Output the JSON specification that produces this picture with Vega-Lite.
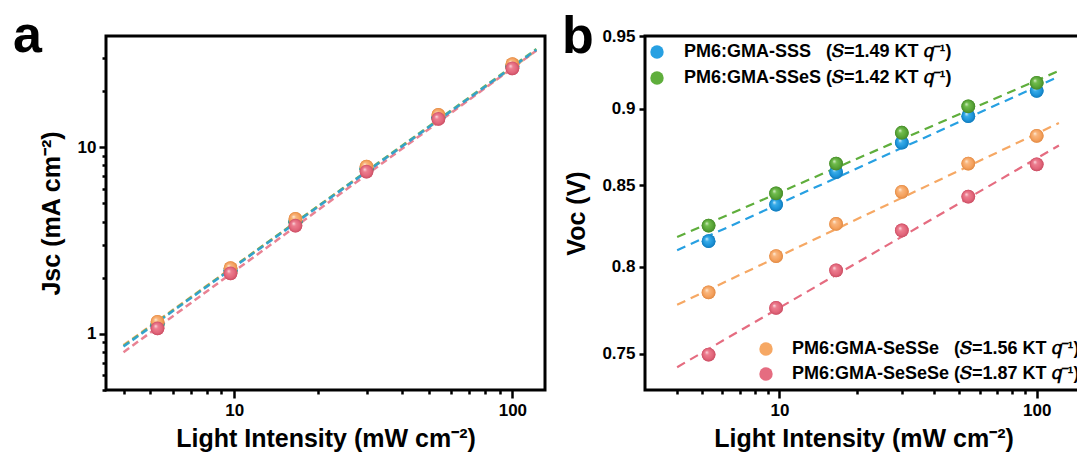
{
  "$schema": "https://vega.github.io/schema/vega-lite/v6.json",
  "padding": {"left": 11, "top": 8, "right": 0, "bottom": 0},
  "background": "white",
  "spacing": 13,
  "config": {
    "view": {"stroke": "black", "strokeWidth": 3},
    "font": "Liberation Sans",
    "axis": {"grid": false, "domain": false, "tickColor": "black", "tickWidth": 2.5, "labelFont": "Liberation Sans", "labelFontSize": 17, "labelFontWeight": "bold", "labelColor": "black", "titleFont": "Liberation Sans", "titleFontSize": 25, "titleFontWeight": "bold", "titleColor": "black", "labelFlush": false, "labelOverlap": false},
    "legend": {"orient": "none", "labelFont": "Liberation Sans", "labelFontSize": 18, "labelFontWeight": "bold", "labelColor": "black", "symbolType": "circle", "symbolSize": 180, "symbolStrokeWidth": 0, "symbolOpacity": 1, "labelLimit": 600, "padding": 0, "titlePadding": 0},
    "title": {"font": "Liberation Sans", "fontSize": 52, "fontWeight": "bold", "color": "black", "anchor": "start", "frame": "group", "offset": -8, "baseline": "alphabetic", "dy": 19}
  },
  "datasets": {
    "ptsA": [
      {"s": "SSeS", "p": 5.3, "j": 1.12}, {"s": "SSeS", "p": 9.7, "j": 2.17}, {"s": "SSeS", "p": 16.6, "j": 3.96}, {"s": "SSeS", "p": 29.9, "j": 7.62}, {"s": "SSeS", "p": 54.2, "j": 14.4}, {"s": "SSeS", "p": 100, "j": 27.0},
      {"s": "SSS", "p": 5.3, "j": 1.13}, {"s": "SSS", "p": 9.7, "j": 2.19}, {"s": "SSS", "p": 16.6, "j": 4.0}, {"s": "SSS", "p": 29.9, "j": 7.68}, {"s": "SSS", "p": 54.2, "j": 14.5}, {"s": "SSS", "p": 100, "j": 27.3},
      {"s": "SeSSe", "p": 5.3, "j": 1.16}, {"s": "SeSSe", "p": 9.7, "j": 2.25}, {"s": "SeSSe", "p": 16.6, "j": 4.13}, {"s": "SeSSe", "p": 29.9, "j": 7.88}, {"s": "SeSSe", "p": 54.2, "j": 14.9}, {"s": "SeSSe", "p": 100, "j": 27.9},
      {"s": "SeSeSe", "p": 5.3, "j": 1.07}, {"s": "SeSeSe", "p": 9.7, "j": 2.11}, {"s": "SeSeSe", "p": 16.6, "j": 3.8}, {"s": "SeSeSe", "p": 29.9, "j": 7.41}, {"s": "SeSeSe", "p": 54.2, "j": 14.2}, {"s": "SeSeSe", "p": 100, "j": 26.5}
    ],
    "fitA": [
      {"s": "SeSSe", "p": 4, "j": 0.87}, {"s": "SeSSe", "p": 122, "j": 33.0},
      {"s": "SeSeSe", "p": 4, "j": 0.797}, {"s": "SeSeSe", "p": 122, "j": 33.0},
      {"s": "SSeS", "p": 4, "j": 0.86}, {"s": "SSeS", "p": 122, "j": 33.6},
      {"s": "SSS", "p": 4, "j": 0.855}, {"s": "SSS", "p": 122, "j": 33.3}
    ],
    "ptsB": [
      {"s": "SSS", "p": 5.3, "v": 0.8155}, {"s": "SSS", "p": 9.7, "v": 0.838}, {"s": "SSS", "p": 16.6, "v": 0.8585}, {"s": "SSS", "p": 29.9, "v": 0.8775}, {"s": "SSS", "p": 54.2, "v": 0.895}, {"s": "SSS", "p": 100, "v": 0.912},
      {"s": "SSeS", "p": 5.3, "v": 0.825}, {"s": "SSeS", "p": 9.7, "v": 0.845}, {"s": "SSeS", "p": 16.6, "v": 0.864}, {"s": "SSeS", "p": 29.9, "v": 0.884}, {"s": "SSeS", "p": 54.2, "v": 0.9015}, {"s": "SSeS", "p": 100, "v": 0.9175},
      {"s": "SeSSe", "p": 5.3, "v": 0.785}, {"s": "SeSSe", "p": 9.7, "v": 0.8065}, {"s": "SeSSe", "p": 16.6, "v": 0.826}, {"s": "SeSSe", "p": 29.9, "v": 0.846}, {"s": "SeSSe", "p": 54.2, "v": 0.864}, {"s": "SeSSe", "p": 100, "v": 0.882},
      {"s": "SeSeSe", "p": 5.3, "v": 0.7495}, {"s": "SeSeSe", "p": 9.7, "v": 0.776}, {"s": "SeSeSe", "p": 16.6, "v": 0.798}, {"s": "SeSeSe", "p": 29.9, "v": 0.822}, {"s": "SeSeSe", "p": 54.2, "v": 0.843}, {"s": "SeSeSe", "p": 100, "v": 0.8635}
    ],
    "fitB": [
      {"s": "SSS", "p": 4, "v": 0.810}, {"s": "SSS", "p": 122, "v": 0.9218},
      {"s": "SSeS", "p": 4, "v": 0.818}, {"s": "SSeS", "p": 122, "v": 0.9257},
      {"s": "SeSSe", "p": 4, "v": 0.7778}, {"s": "SeSSe", "p": 122, "v": 0.8904},
      {"s": "SeSeSe", "p": 4, "v": 0.7425}, {"s": "SeSeSe", "p": 122, "v": 0.8757}
    ]
  },
  "hconcat": [
    {
      "width": 439,
      "height": 354,
      "title": {"text": "a", "dx": -93},
      "layer": [
        {
          "data": {"name": "fitA"},
          "mark": {"type": "line", "strokeDash": [7, 4], "strokeWidth": 2.5, "opacity": 0.85},
          "encoding": {
            "x": {"field": "p", "type": "quantitative", "scale": {"type": "log", "domain": [3.46, 131], "nice": false},
              "axis": {"title": "Light Intensity (mW cm⁻²)", "values": [4, 5, 6, 7, 8, 9, 10, 20, 30, 40, 50, 60, 70, 80, 90, 100],
                "labelExpr": "datum.value == 10 ? '10' : datum.value == 100 ? '100' : ''",
                "tickSize": {"condition": {"test": "datum.value == 10 || datum.value == 100", "value": 8}, "value": 4},
                "labelPadding": 4, "titlePadding": 8}},
            "y": {"field": "j", "type": "quantitative", "scale": {"type": "log", "domain": [0.5, 39.5], "nice": false},
              "axis": {"title": "Jsc (mA cm⁻²)", "values": [0.5, 0.6, 0.7, 0.8, 0.9, 1, 2, 3, 4, 5, 6, 7, 8, 9, 10, 20, 30],
                "labelExpr": "datum.value == 1 ? '1' : datum.value == 10 ? '10' : ''",
                "tickSize": {"condition": {"test": "datum.value == 1 || datum.value == 10", "value": 7}, "value": 4},
                "labelPadding": 3, "titlePadding": 13}},
            "stroke": {"field": "s", "type": "nominal", "scale": {"domain": ["SSS", "SSeS", "SeSSe", "SeSeSe"], "range": ["#27a0e2", "#5fae3c", "#f6a864", "#e56c80"]}, "legend": null}
          }
        },
        {
          "data": {"name": "ptsA"},
          "mark": {"type": "point", "filled": true, "size": 190, "opacity": 1, "strokeWidth": 0},
          "encoding": {
            "x": {"field": "p", "type": "quantitative", "scale": {"type": "log", "domain": [3.46, 131], "nice": false}},
            "y": {"field": "j", "type": "quantitative", "scale": {"type": "log", "domain": [0.5, 39.5], "nice": false}},
            "fill": {"field": "s", "type": "nominal", "scale": {"domain": ["SSS", "SSeS", "SeSSe", "SeSeSe"], "range": ["#27a0e2", "#5fae3c", "#f6a864", "#e56c80"]},
              "legend": {"title": null, "legendX": 9.5, "legendY": 9, "rowPadding": 5.3, "labelOffset": 17,
                "labelExpr": "{'SSS': 'PM6:GMA-SSS\u00a0\u00a0\u00a0\u00a0\u00a0\u00a0\u00a0\u00a0(a=1.09)', 'SSeS': 'PM6:GMA-SSeS\u00a0\u00a0\u00a0\u00a0\u00a0\u00a0(a=1.05)', 'SeSSe': 'PM6:GMA-SeSSe\u00a0\u00a0\u00a0\u00a0(a=1.05)', 'SeSeSe': 'PM6:GMA-SeSeSe\u00a0\u00a0(a=1.11)'}[datum.label]"}}
          }
        },
        {
          "data": {"name": "ptsA"},
          "transform": [{"filter": {"field": "s", "equal": "SSeS"}}],
          "mark": {"type": "point", "filled": true, "size": 190, "opacity": 1, "strokeWidth": 0,
            "fill": {"gradient": "radial", "x1": 0.35, "y1": 0.32, "r1": 0, "x2": 0.5, "y2": 0.5, "r2": 0.5,
              "stops": [{"offset": 0, "color": "#e4f5da"}, {"offset": 0.3, "color": "#72bd4e"}, {"offset": 0.75, "color": "#57a336"}, {"offset": 1, "color": "#46892a"}]}},
          "encoding": {
            "x": {"field": "p", "type": "quantitative", "scale": {"type": "log", "domain": [3.46, 131], "nice": false}},
            "y": {"field": "j", "type": "quantitative", "scale": {"type": "log", "domain": [0.5, 39.5], "nice": false}}
          }
        },
        {
          "data": {"name": "ptsA"},
          "transform": [{"filter": {"field": "s", "equal": "SSS"}}],
          "mark": {"type": "point", "filled": true, "size": 190, "opacity": 1, "strokeWidth": 0,
            "fill": {"gradient": "radial", "x1": 0.35, "y1": 0.32, "r1": 0, "x2": 0.5, "y2": 0.5, "r2": 0.5,
              "stops": [{"offset": 0, "color": "#e0f4ff"}, {"offset": 0.3, "color": "#3aade9"}, {"offset": 0.75, "color": "#1b93d8"}, {"offset": 1, "color": "#1479b8"}]}},
          "encoding": {
            "x": {"field": "p", "type": "quantitative", "scale": {"type": "log", "domain": [3.46, 131], "nice": false}},
            "y": {"field": "j", "type": "quantitative", "scale": {"type": "log", "domain": [0.5, 39.5], "nice": false}}
          }
        },
        {
          "data": {"name": "ptsA"},
          "transform": [{"filter": {"field": "s", "equal": "SeSSe"}}],
          "mark": {"type": "point", "filled": true, "size": 190, "opacity": 1, "strokeWidth": 0,
            "fill": {"gradient": "radial", "x1": 0.35, "y1": 0.32, "r1": 0, "x2": 0.5, "y2": 0.5, "r2": 0.5,
              "stops": [{"offset": 0, "color": "#fff1e0"}, {"offset": 0.3, "color": "#f9b67e"}, {"offset": 0.75, "color": "#f4a05c"}, {"offset": 1, "color": "#e08a45"}]}},
          "encoding": {
            "x": {"field": "p", "type": "quantitative", "scale": {"type": "log", "domain": [3.46, 131], "nice": false}},
            "y": {"field": "j", "type": "quantitative", "scale": {"type": "log", "domain": [0.5, 39.5], "nice": false}}
          }
        },
        {
          "data": {"name": "ptsA"},
          "transform": [{"filter": {"field": "s", "equal": "SeSeSe"}}],
          "mark": {"type": "point", "filled": true, "size": 190, "opacity": 1, "strokeWidth": 0,
            "fill": {"gradient": "radial", "x1": 0.35, "y1": 0.32, "r1": 0, "x2": 0.5, "y2": 0.5, "r2": 0.5,
              "stops": [{"offset": 0, "color": "#ffe8ec"}, {"offset": 0.3, "color": "#ec7f90"}, {"offset": 0.75, "color": "#e2657a"}, {"offset": 1, "color": "#c94f64"}]}},
          "encoding": {
            "x": {"field": "p", "type": "quantitative", "scale": {"type": "log", "domain": [3.46, 131], "nice": false}},
            "y": {"field": "j", "type": "quantitative", "scale": {"type": "log", "domain": [0.5, 39.5], "nice": false}}
          }
        }
      ]
    },
    {
      "width": 437,
      "height": 354,
      "title": {"text": "b", "dx": -83, "offset": -18},
      "resolve": {"scale": {"fill": "independent"}},
      "layer": [
        {
          "data": {"name": "fitB"},
          "mark": {"type": "line", "strokeDash": [9, 6], "strokeWidth": 2.2},
          "encoding": {
            "x": {"field": "p", "type": "quantitative", "scale": {"type": "log", "domain": [3.0, 150], "nice": false},
              "axis": {"title": "Light Intensity (mW cm⁻²)", "values": [4, 5, 6, 7, 8, 9, 10, 20, 30, 40, 50, 60, 70, 80, 90, 100],
                "labelExpr": "datum.value == 10 ? '10' : datum.value == 100 ? '100' : ''",
                "tickSize": {"condition": {"test": "datum.value == 10 || datum.value == 100", "value": 8}, "value": 4},
                "labelPadding": 4, "titlePadding": 8}},
            "y": {"field": "v", "type": "quantitative", "scale": {"type": "log", "domain": [0.73, 0.95], "nice": false},
              "axis": {"title": "Voc (V)", "values": [0.75, 0.8, 0.85, 0.9, 0.95], "format": "~g", "tickSize": 6, "labelPadding": 4, "titlePadding": 12}},
            "stroke": {"field": "s", "type": "nominal", "scale": {"domain": ["SSS", "SSeS", "SeSSe", "SeSeSe"], "range": ["#27a0e2", "#5fae3c", "#f6a864", "#e56c80"]}, "legend": null}
          }
        },
        {
          "data": {"name": "ptsB"},
          "transform": [{"filter": {"field": "s", "oneOf": ["SSS", "SSeS"]}}],
          "mark": {"type": "point", "filled": true, "size": 190, "opacity": 1, "strokeWidth": 0},
          "encoding": {
            "x": {"field": "p", "type": "quantitative", "scale": {"type": "log", "domain": [3.0, 150], "nice": false}},
            "y": {"field": "v", "type": "quantitative", "scale": {"type": "log", "domain": [0.73, 0.95], "nice": false}},
            "fill": {"field": "s", "type": "nominal", "scale": {"domain": ["SSS", "SSeS"], "range": ["#27a0e2", "#5fae3c"]},
              "legend": {"title": null, "legendX": 3, "legendY": 7, "rowPadding": 8, "labelOffset": 18,
                "labelExpr": "{'SSS': 'PM6:GMA-SSS\u00a0\u00a0\u00a0(\ud835\udc46=1.49 KT \ud835\udc5e\u207b\u00b9)', 'SSeS': 'PM6:GMA-SSeS (\ud835\udc46=1.42 KT \ud835\udc5e\u207b\u00b9)'}[datum.label]"}}
          }
        },
        {
          "data": {"name": "ptsB"},
          "transform": [{"filter": {"field": "s", "oneOf": ["SeSSe", "SeSeSe"]}}],
          "mark": {"type": "point", "filled": true, "size": 190, "opacity": 1, "strokeWidth": 0},
          "encoding": {
            "x": {"field": "p", "type": "quantitative", "scale": {"type": "log", "domain": [3.0, 150], "nice": false}},
            "y": {"field": "v", "type": "quantitative", "scale": {"type": "log", "domain": [0.73, 0.95], "nice": false}},
            "fill": {"field": "s", "type": "nominal", "scale": {"domain": ["SeSSe", "SeSeSe"], "range": ["#f6a864", "#e56c80"]},
              "legend": {"title": null, "legendX": 112, "legendY": 304, "rowPadding": 7, "labelOffset": 17,
                "labelExpr": "{'SeSSe': 'PM6:GMA-SeSSe\u00a0\u00a0\u00a0(\ud835\udc46=1.56 KT \ud835\udc5e\u207b\u00b9)', 'SeSeSe': 'PM6:GMA-SeSeSe (\ud835\udc46=1.87 KT \ud835\udc5e\u207b\u00b9)'}[datum.label]"}}
          }
        },
        {
          "data": {"name": "ptsB"},
          "transform": [{"filter": {"field": "s", "equal": "SSS"}}],
          "mark": {"type": "point", "filled": true, "size": 190, "opacity": 1, "strokeWidth": 0,
            "fill": {"gradient": "radial", "x1": 0.35, "y1": 0.32, "r1": 0, "x2": 0.5, "y2": 0.5, "r2": 0.5,
              "stops": [{"offset": 0, "color": "#e0f4ff"}, {"offset": 0.3, "color": "#3aade9"}, {"offset": 0.75, "color": "#1b93d8"}, {"offset": 1, "color": "#1479b8"}]}},
          "encoding": {
            "x": {"field": "p", "type": "quantitative", "scale": {"type": "log", "domain": [3.0, 150], "nice": false}},
            "y": {"field": "v", "type": "quantitative", "scale": {"type": "log", "domain": [0.73, 0.95], "nice": false}}
          }
        },
        {
          "data": {"name": "ptsB"},
          "transform": [{"filter": {"field": "s", "equal": "SSeS"}}],
          "mark": {"type": "point", "filled": true, "size": 190, "opacity": 1, "strokeWidth": 0,
            "fill": {"gradient": "radial", "x1": 0.35, "y1": 0.32, "r1": 0, "x2": 0.5, "y2": 0.5, "r2": 0.5,
              "stops": [{"offset": 0, "color": "#e4f5da"}, {"offset": 0.3, "color": "#72bd4e"}, {"offset": 0.75, "color": "#57a336"}, {"offset": 1, "color": "#46892a"}]}},
          "encoding": {
            "x": {"field": "p", "type": "quantitative", "scale": {"type": "log", "domain": [3.0, 150], "nice": false}},
            "y": {"field": "v", "type": "quantitative", "scale": {"type": "log", "domain": [0.73, 0.95], "nice": false}}
          }
        },
        {
          "data": {"name": "ptsB"},
          "transform": [{"filter": {"field": "s", "equal": "SeSSe"}}],
          "mark": {"type": "point", "filled": true, "size": 190, "opacity": 1, "strokeWidth": 0,
            "fill": {"gradient": "radial", "x1": 0.35, "y1": 0.32, "r1": 0, "x2": 0.5, "y2": 0.5, "r2": 0.5,
              "stops": [{"offset": 0, "color": "#fff1e0"}, {"offset": 0.3, "color": "#f9b67e"}, {"offset": 0.75, "color": "#f4a05c"}, {"offset": 1, "color": "#e08a45"}]}},
          "encoding": {
            "x": {"field": "p", "type": "quantitative", "scale": {"type": "log", "domain": [3.0, 150], "nice": false}},
            "y": {"field": "v", "type": "quantitative", "scale": {"type": "log", "domain": [0.73, 0.95], "nice": false}}
          }
        },
        {
          "data": {"name": "ptsB"},
          "transform": [{"filter": {"field": "s", "equal": "SeSeSe"}}],
          "mark": {"type": "point", "filled": true, "size": 190, "opacity": 1, "strokeWidth": 0,
            "fill": {"gradient": "radial", "x1": 0.35, "y1": 0.32, "r1": 0, "x2": 0.5, "y2": 0.5, "r2": 0.5,
              "stops": [{"offset": 0, "color": "#ffe8ec"}, {"offset": 0.3, "color": "#ec7f90"}, {"offset": 0.75, "color": "#e2657a"}, {"offset": 1, "color": "#c94f64"}]}},
          "encoding": {
            "x": {"field": "p", "type": "quantitative", "scale": {"type": "log", "domain": [3.0, 150], "nice": false}},
            "y": {"field": "v", "type": "quantitative", "scale": {"type": "log", "domain": [0.73, 0.95], "nice": false}}
          }
        }
      ]
    }
  ]
}
